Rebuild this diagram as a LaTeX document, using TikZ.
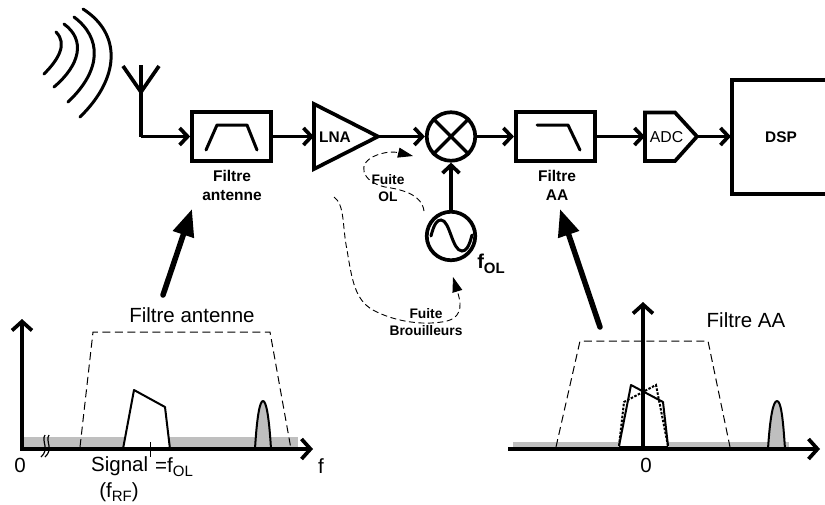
\documentclass[tikz,border=0pt]{standalone}
\usepackage{fontspec}
\setmainfont{Liberation Sans}
\usetikzlibrary{arrows.meta}
\definecolor{bandgray}{gray}{0.75}
\newcommand{\lowtext}[2]{\raisebox{-0.22em}{\fontsize{#1}{#1}\selectfont #2}}
\tikzset{
  wire/.style={line width=3.7pt,line cap=butt,-{Straight Barb[length=8pt,width=17pt,line width=3.7pt]}},
  plainwire/.style={line width=3.7pt,line join=round},
  block/.style={draw,line width=3.7pt,rectangle,inner sep=0pt,minimum width=79pt,minimum height=49pt},
  round block/.style={draw,line width=3.7pt,circle,inner sep=0pt,minimum size=48.5pt},
  icon/.style={line width=3pt,line cap=round,line join=round},
  wave/.style={line width=3pt,line cap=round},
  bold label/.style={font=\bfseries\fontsize{15.5}{19}\selectfont,align=center,inner sep=0pt},
  leak label/.style={font=\bfseries\fontsize{13.8}{17}\selectfont,align=center,inner sep=0pt},
  plot label/.style={font=\fontsize{20.5}{24}\selectfont,inner sep=0pt},
  axis/.style={line width=3.7pt,-{Straight Barb[length=9pt,width=20pt,line width=3.7pt]}},
  big arrow/.style={line width=5.5pt,line cap=round,-{Triangle[length=27pt,width=21pt]}},
  leak/.style={line width=0.9pt,dash pattern=on 6pt off 3.5pt,-{Triangle[length=15pt,width=10pt]}},
  filterline/.style={line width=1pt,dash pattern=on 8pt off 4.5pt},
  spectrum/.style={line width=2pt,line join=round},
  band/.style={fill=bandgray,draw=none},
}
\begin{document}
\begin{tikzpicture}[x=1pt,y=-1pt]
\useasboundingbox (0,0) rectangle (825,504);
% radio waves
\draw[wave] (44,74) .. controls (58,60) and (68,44) .. (56,32);
\draw[wave] (54,87) .. controls (80,65) and (86,40) .. (64,24);
\draw[wave] (68,102) .. controls (102,70) and (102,38) .. (74,17);
\draw[wave] (80,117) .. controls (120,78) and (122,34) .. (83,9);
% antenna
\coordinate (antTop) at (141,65);
\coordinate (antBase) at (141,92);
\coordinate (antCorner) at (141,136.5);
\draw[plainwire] (123,66) -- (antBase) -- (159,66);
\draw[plainwire] (antTop) -- (antCorner);
% blocks
\node[block] (fant) at (231.5,136.5) {};
\draw[icon] (206,150) -- (217,125) -- (247,125) -- (257,150);
\node[bold label] (fantlabel) at (232,185) {Filtre\\antenne};
\coordinate (lnaTop) at (314,104);
\coordinate (lnaBot) at (314,169);
\coordinate (lnaOut) at (378,136.5);
\draw[line width=3.7pt,line join=miter] (lnaTop) -- (lnaOut) -- (lnaBot) -- cycle;
\node[font=\bfseries\fontsize{15.4}{18}\selectfont,inner sep=0pt] (lna) at (335,137) {LNA};
\node[round block] (mix) at (451,136.5) {};
\draw[line width=3.4pt] (mix.north west) -- (mix.south east) (mix.north east) -- (mix.south west);
\node[round block] (osc) at (451,236) {};
\draw[line width=3pt,line cap=round] (431,236) .. controls (434,224) and (437,220) .. (441,220) .. controls (450,220) and (452,251) .. (462,251) .. controls (466,251) and (469,247) .. (472,235);
\node[font=\bfseries\fontsize{20}{24}\selectfont,inner sep=0pt] (fol) at (491,264) {f\lowtext{15}{OL}};
\node[block] (faa) at (555.3,136.5) {};
\draw[icon] (537,125) -- (568,125) -- (580,150);
\node[bold label] (faalabel) at (557,185) {Filtre\\AA};
\coordinate (adcIn) at (645,136.5);
\coordinate (adcOut) at (697,136.5);
\draw[line width=3.7pt,line join=miter] (645,112.5) -- (675,112.5) -- (adcOut) -- (675,161) -- (645,161) -- cycle;
\node[font=\fontsize{15.8}{18}\selectfont,inner sep=0pt] (adc) at (666.5,137) {ADC};
\draw[line width=3.7pt] (827,80) -- (732,80) -- (732,194) -- (827,194);
\coordinate (dspIn) at (731,136.5);
\node[font=\bfseries\fontsize{15.4}{18}\selectfont,inner sep=0pt] (dsp) at (781,137) {DSP};
% connectors
\draw[wire] (antCorner) -- (fant.west);
\draw[wire] (fant.east) -- (lnaTop |- fant.east);
\draw[wire] (lnaOut) -- (mix.west);
\draw[wire] (mix.east) -- (faa.west);
\draw[wire] (faa.east) -- (adcIn);
\draw[wire] (adcOut) -- (dspIn);
\draw[wire] (osc.north) -- (mix.south);
% leaks
\coordinate (leakAstart) at (424,211);
\coordinate (leakAend) at (413,156);
\draw[leak] (leakAstart) .. controls (422,196) and (406,190) .. (385,187) .. controls (362,182) and (355,163) .. (377,155) .. controls (390,150) and (400,153) .. (leakAend);
\node[leak label] (leakAlabel) at (388,188.5) {Fuite\\OL};
\coordinate (leakBstart) at (334,197);
\coordinate (leakBend) at (453,277);
\draw[leak] (leakBstart) .. controls (345,205) and (342,225) .. (347,250) .. controls (352,280) and (355,300) .. (373,310) .. controls (395,322) and (425,326) .. (447,321) .. controls (465,316) and (460,300) .. (leakBend);
\node[leak label] (leakBlabel) at (426,322.5) {Fuite\\Brouilleurs};
% big arrows
\coordinate (bigAstart) at (163,295);
\coordinate (bigAend) at (192,209);
\coordinate (bigBstart) at (600,327);
\coordinate (bigBend) at (560,209);
\draw[big arrow] (bigAstart) -- (bigAend);
\draw[big arrow] (bigBstart) -- (bigBend);
% left spectrum
\fill[band] (22,437) rectangle (298,449);
\draw[filterline] (80,447) -- (93,332) -- (270,332) -- (291,449);
\fill[white] (123,449) -- (134,390) -- (165,407) -- (170,449) -- cycle;
\draw[spectrum] (123,449) -- (134,390) -- (165,407) -- (170,449);
\draw[spectrum,fill=bandgray] (255,449) .. controls (257,415) and (260,401) .. (263,401) .. controls (266,401) and (269,415) .. (271,449);
\draw[line width=1pt] (150,442) -- (150,457);
\coordinate (oLeft) at (22,449);
\coordinate (yLeft) at (22,319);
\coordinate (xLeft) at (313,449);
\draw[axis] ([yshift=1.8pt]oLeft) -- (yLeft);
\draw[axis] ([xshift=-1.8pt]oLeft) -- (xLeft);
\draw[line width=1.2pt] (45,435) .. controls (41,441) and (50,449) .. (41,457);
\draw[line width=1.2pt] (49,435) .. controls (45,441) and (54,449) .. (45,457);
\node[plot label] (t0left) at (20,465) {0};
\node[plot label] (tfa) at (192,315) {Filtre antenne};
\node[plot label,anchor=west] (tsig) at (91,466) {Signal};
\node[plot label,anchor=west] (tfol) at (155,467) {=f\lowtext{15}{OL}};
\node[plot label] (tfrf) at (119,492) {(f\lowtext{15}{RF})};
\node[plot label] (tf) at (321,466) {f};
% right spectrum
\fill[band] (513,442) rectangle (789,449);
\draw[filterline] (556,447) -- (580,341) -- (708,341) -- (730,447);
\fill[white] (619,446) -- (631,385) -- (663,402) -- (668,446) -- cycle;
\draw[line width=1pt] (619,446) -- (668,446);
\draw[line width=2pt,dash pattern=on 2.5pt off 1.5pt] (619,446) -- (624,402) -- (656,385) -- (668,446);
\draw[spectrum] (619,446) -- (631,385) -- (663,402) -- (668,446);
\draw[spectrum,fill=bandgray] (768,449) .. controls (770,418) and (773,401) .. (777,401) .. controls (781,401) and (783,418) .. (785,449);
\coordinate (yBase) at (643,449);
\coordinate (yRight) at (643,302);
\coordinate (xStart) at (508,449);
\coordinate (xRight) at (820,449);
\draw[axis] (yBase) -- (yRight);
\draw[axis] (xStart) -- (xRight);
\node[plot label] (t0right) at (646,465) {0};
\node[plot label] (tfaa) at (746,320) {Filtre AA};
\end{tikzpicture}
\end{document}
